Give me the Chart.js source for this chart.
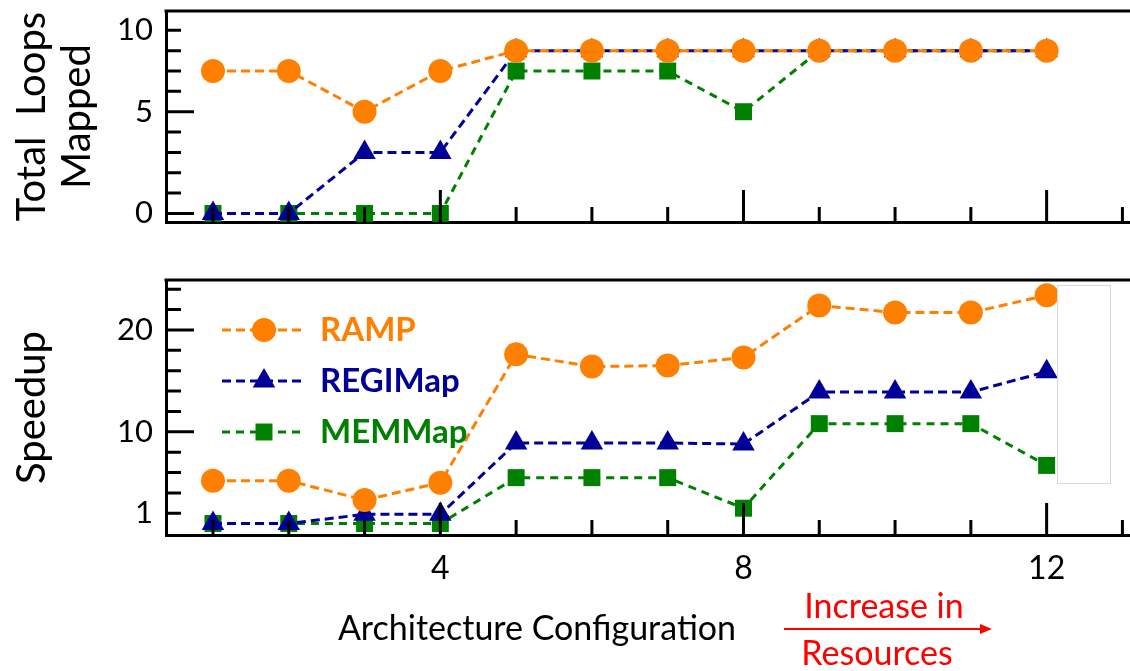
<!DOCTYPE html>
<html>
<head>
<meta charset="utf-8">
<script src="https://cdn.jsdelivr.net/npm/chart.js@4.4.0/dist/chart.umd.min.js"></script>
<style>
    html, body { margin: 0; padding: 0; background: #fff; }
    #wrap { position: relative; width: 1130px; height: 671px; overflow: hidden; }
    #topBox { position: absolute; left: 0; top: 0; width: 1130px; height: 240px; }
    #botBox { position: absolute; left: 0; top: 240px; width: 1130px; height: 431px; }
</style>
</head>
<body>
<div id="wrap">
    <div id="topBox"><canvas id="loopsChart"></canvas></div>
    <div id="botBox"><canvas id="speedChart"></canvas></div>
</div>
<script>
// === DATA ===
const configs = [1, 2, 3, 4, 5, 6, 7, 8, 9, 10, 11, 12];
const seriesNames = ['RAMP', 'REGIMap', 'MEMMap'];

// top panel, in tick steps (the tick labelled "10" sits on the 9th step)
const loopsRamp = [7, 7, 5, 7, 8, 8, 8, 8, 8, 8, 8, 8];
const loopsRegi = [0, 0, 3, 3, 8, 8, 8, 8, 8, 8, 8, 8];
const loopsMem  = [0, 0, 0, 0, 7, 7, 7, 5, 8, 8, 8, 8];

// bottom panel
const speedRamp = [5.2, 5.2, 3.3, 5.0, 17.6, 16.4, 16.5, 17.3, 22.4, 21.7, 21.7, 23.4];
const speedRegi = [1.0, 1.0, 1.9, 1.9, 8.9, 8.9, 8.9, 8.8, 13.9, 13.9, 13.9, 15.9];
const speedMem  = [1.0, 1.0, 1.0, 1.0, 5.5, 5.5, 5.5, 2.5, 10.8, 10.8, 10.8, 6.7];

const xTicks = [1, 2, 3, 4, 5, 6, 7, 8, 9, 10, 11, 12, 13];
const xTickLabels = { 4: '4', 8: '8', 12: '12' };
const loopsTicks = [0, 1, 2, 3, 4, 5, 6, 7, 8, 9];
const loopsTickLabels = { 0: '0', 5: '5', 9: '10' };
const speedTicks = [2, 4, 6, 8, 10, 12, 14, 16, 18, 20, 22, 24];
const speedTickLabels = { 2: '1', 10: '10', 20: '20' };

const FONT = 'Lato, "Open Sans", sans-serif';
const ORANGE = '#FF8000';
const BLUE = '#000099';
const GREEN = '#008000';

const toPoints = (vals) => vals.map((v, i) => ({ x: configs[i], y: v }));

const makeDatasets = (ramp, regi, mem) => [
    { label: seriesNames[0], data: toPoints(ramp), borderColor: ORANGE, backgroundColor: ORANGE,
      pointStyle: 'circle', pointRadius: 12, borderDash: [9, 5] },
    { label: seriesNames[1], data: toPoints(regi), borderColor: BLUE, backgroundColor: BLUE,
      pointStyle: 'triangle', pointRadius: 13, borderDash: [9, 5] },
    { label: seriesNames[2], data: toPoints(mem), borderColor: GREEN, backgroundColor: GREEN,
      pointStyle: 'rect', pointRadius: 12, borderDash: [8, 6] }
].map(ds => Object.assign(ds, { borderWidth: 3, pointBorderWidth: 0, fill: false, tension: 0 }));

// === PLUGINS ===
// top frame line + inward tick marks, drawn over the data like in the original
const framePlugin = {
    id: 'frame',
    afterDatasetsDraw(chart, args, opts) {
        const { ctx, chartArea: a, scales: { x, y } } = chart;
        ctx.save();
        ctx.strokeStyle = '#000';
        ctx.lineWidth = 3;
        ctx.beginPath();
        ctx.moveTo(a.left - 1.5, a.top);
        ctx.lineTo(chart.width, a.top);
        opts.yTicks.forEach(v => {
            const py = y.getPixelForValue(v);
            const len = opts.yMajor.includes(v) ? 28 : 15;
            ctx.moveTo(a.left, py);
            ctx.lineTo(a.left + len, py);
        });
        xTicks.forEach(v => {
            const px = x.getPixelForValue(v);
            const len = xTickLabels[v] ? 32 : 15;
            ctx.moveTo(px, a.bottom);
            ctx.lineTo(px, a.bottom - len);
        });
        ctx.stroke();
        ctx.restore();
    }
};

// legend drawn inside the lower plot
const insideLegend = {
    id: 'insideLegend',
    afterDraw(chart) {
        const { ctx, chartArea: a } = chart;
        chart.data.datasets.forEach((ds, i) => {
            const yy = a.top + 50 + i * 51;
            ctx.save();
            ctx.strokeStyle = ds.borderColor;
            ctx.lineWidth = 3;
            ctx.setLineDash(ds.borderDash);
            ctx.beginPath();
            ctx.moveTo(a.left + 56, yy);
            ctx.lineTo(a.left + 140, yy);
            ctx.stroke();
            ctx.setLineDash([]);
            ctx.fillStyle = ds.backgroundColor;
            Chart.helpers.drawPoint(ctx, { pointStyle: ds.pointStyle, radius: ds.pointRadius, rotation: 0, borderWidth: 0 }, a.left + 98, yy);
            ctx.font = 'bold 33px ' + FONT;
            ctx.textBaseline = 'middle';
            ctx.textAlign = 'left';
            ctx.fillText(ds.label, a.left + 154, yy);
            ctx.restore();
        });
    }
};

// x axis title, the red "Increase in Resources" note and the pasted white box
const bottomNotes = {
    id: 'bottomNotes',
    afterDraw(chart) {
        const { ctx } = chart;
        ctx.save();
        ctx.fillStyle = '#fff';
        ctx.fillRect(1057, 45, 53, 198);
        ctx.strokeStyle = '#d8d8d8';
        ctx.lineWidth = 1;
        ctx.strokeRect(1057.5, 45.5, 53, 198);

        ctx.textAlign = 'center';
        ctx.textBaseline = 'middle';
        ctx.fillStyle = '#000';
        ctx.font = '34px ' + FONT;
        ctx.fillText('Architecture Configuration', 537, 389);
        ctx.fillStyle = '#FF0000';
        ctx.font = '34px ' + FONT;
        ctx.fillText('Increase in', 884, 367);
        ctx.fillText('Resources', 877, 414);
        ctx.strokeStyle = '#FF0000';
        ctx.lineWidth = 2;
        ctx.beginPath();
        ctx.moveTo(784, 389);
        ctx.lineTo(984, 389);
        ctx.stroke();
        ctx.beginPath();
        ctx.moveTo(992, 389);
        ctx.lineTo(980, 384);
        ctx.lineTo(980, 394);
        ctx.closePath();
        ctx.fill();
        ctx.restore();
    }
};

const yAxis = (min, max, ticks, labels, title) => ({
    type: 'linear', min: min, max: max,
    afterBuildTicks: s => { s.ticks = ticks.map(v => ({ value: v })); },
    afterFit: s => { s.width = 166; s.paddingTop = 0; s.paddingBottom = 0; },
    grid: { display: false, drawTicks: false },
    border: { display: true, color: '#000', width: 3 },
    ticks: { autoSkip: false, padding: 13, color: '#000', font: { family: FONT, size: 31 },
             callback: v => labels[v] ?? '' },
    title: { display: true, text: title, color: '#000', padding: { top: 10, bottom: 0 },
             font: { family: FONT, size: 40, lineHeight: 1.12 } }
});

const xAxis = (height, showLabels) => ({
    type: 'linear', min: 0.38, max: 13.1,
    afterBuildTicks: s => { s.ticks = xTicks.map(v => ({ value: v })); },
    afterFit: s => { s.height = height; s.paddingLeft = 0; s.paddingRight = 0; },
    grid: { display: false, drawTicks: false },
    border: { display: true, color: '#000', width: 3 },
    ticks: { display: showLabels, autoSkip: false, maxRotation: 0, padding: 14, color: '#000',
             font: { family: FONT, size: 32 }, callback: v => xTickLabels[v] ?? '' }
});

const baseOptions = {
    responsive: true,
    maintainAspectRatio: false,
    animation: false,
    events: [],
    plugins: { legend: { display: false }, tooltip: { enabled: false } }
};

// === GRAFIK ATAS: Total Loops Mapped ===
new Chart(document.getElementById('loopsChart'), {
    type: 'line',
    data: { datasets: makeDatasets(loopsRamp, loopsRegi, loopsMem) },
    options: Object.assign({}, baseOptions, {
        layout: { autoPadding: false, padding: { top: 11, right: 0, bottom: 0, left: 0 } },
        scales: {
            x: xAxis(18, false),
            y: yAxis(-0.42, 9.95, loopsTicks, loopsTickLabels, ['Total  Loops', 'Mapped'])
        },
        plugins: Object.assign({}, baseOptions.plugins, {
            frame: { yTicks: loopsTicks, yMajor: [0, 5] }
        })
    }),
    plugins: [framePlugin]
});

// === GRAFIK BAWAH: Speedup ===
new Chart(document.getElementById('speedChart'), {
    type: 'line',
    data: { datasets: makeDatasets(speedRamp, speedRegi, speedMem) },
    options: Object.assign({}, baseOptions, {
        layout: { autoPadding: false, padding: { top: 40, right: 0, bottom: 0, left: 0 } },
        scales: {
            x: xAxis(136, true),
            y: yAxis(-0.13, 24.9, speedTicks, speedTickLabels, 'Speedup')
        },
        plugins: Object.assign({}, baseOptions.plugins, {
            frame: { yTicks: speedTicks, yMajor: [10, 20] }
        })
    }),
    plugins: [framePlugin, insideLegend, bottomNotes]
});
</script>
</body>
</html>
